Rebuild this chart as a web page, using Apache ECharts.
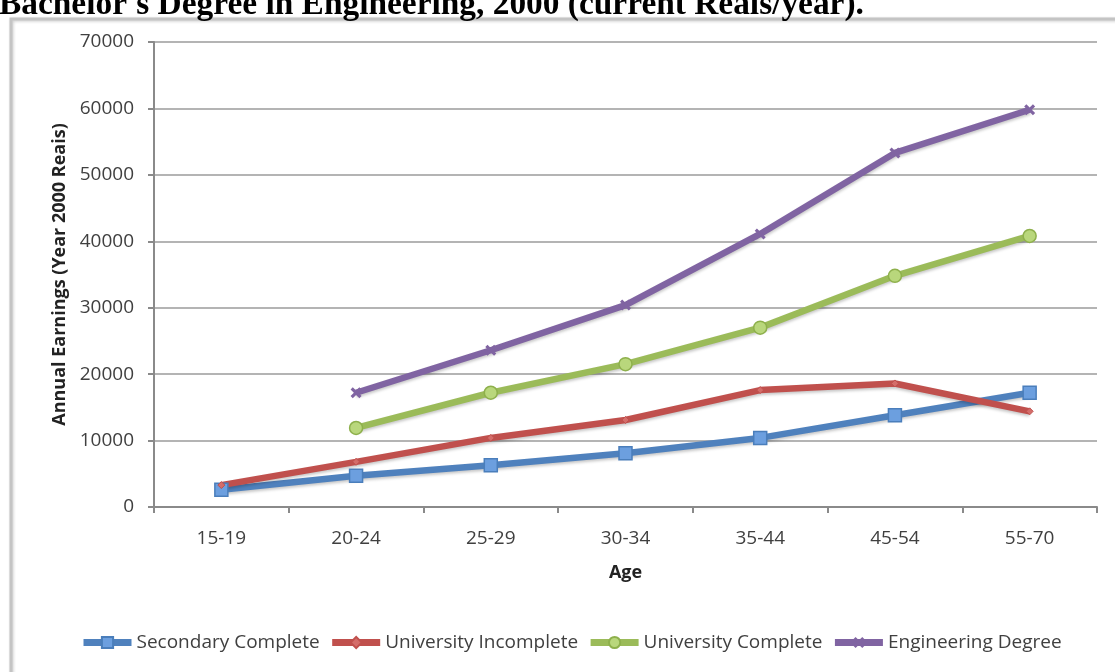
<!DOCTYPE html>
<html>
<head>
<meta charset="utf-8">
<script src="https://cdn.jsdelivr.net/npm/echarts@6/dist/echarts.min.js"></script>
<style>
  html, body { margin: 0; padding: 0; background: #fff; }
  #chart { width: 1115px; height: 672px; }
</style>
</head>
<body>
<div id="chart"></div>
<script>
// Age groups on the horizontal axis
const ageGroups = ['15-19', '20-24', '25-29', '30-34', '35-44', '45-54', '55-70'];

// Annual earnings by education level (Year 2000 Reais)
const secondaryComplete    = [2600, 4700, 6300, 8100, 10400, 13800, 17200];
const universityIncomplete = [3300, 6800, 10400, 13100, 17600, 18600, 14400];
const universityComplete   = [null, 11900, 17200, 21500, 27000, 34800, 40800];
const engineeringDegree    = [null, 17200, 23600, 30400, 41100, 53300, 59800];

const seriesNames = ['Secondary Complete', 'University Incomplete', 'University Complete', 'Engineering Degree'];

const yTicks = { min: 0, max: 70000, step: 10000 };

const titleText = "Bachelor's Degree in Engineering, 2000 (current Reais/year).";

const crossSymbol = 'path://M0,2 L2,0 L5,3 L8,0 L10,2 L7,5 L10,8 L8,10 L5,7 L2,10 L0,8 L3,5 Z';

const lineShadow = {
  shadowColor: 'rgba(0,0,0,0.22)',
  shadowBlur: 3,
  shadowOffsetY: 2
};

function lineSeries(name, data, color, symbol, size, itemStyle) {
  return {
    name: name,
    type: 'line',
    data: data,
    symbol: symbol,
    symbolSize: size,
    showAllSymbol: true,
    connectNulls: false,
    lineStyle: Object.assign({ color: color, width: 6.5 }, lineShadow),
    itemStyle: itemStyle,
    emphasis: { disabled: true },
    z: 3
  };
}

const chart = echarts.init(document.getElementById('chart'), null, { renderer: 'canvas' });

chart.setOption({
  animation: false,
  backgroundColor: '#ffffff',
  graphic: [
    {
      type: 'rect',
      shape: { x: 11, y: 19, width: 1130, height: 700 },
      style: {
        fill: 'none',
        stroke: '#c4c4c4',
        lineWidth: 3,
        shadowColor: 'rgba(0,0,0,0.2)',
        shadowBlur: 3,
        shadowOffsetX: 1,
        shadowOffsetY: 1
      },
      z: 0,
      silent: true
    },
    {
      // heading sits partly above the top edge of the page
      type: 'text',
      x: -1,
      y: 5,
      style: {
        text: titleText,
        font: 'bold 33.4px "Liberation Serif", "Times New Roman", serif',
        fill: '#000000',
        verticalAlign: 'middle'
      },
      z: 5,
      silent: true
    }
  ],
  grid: { left: 154, right: 18, top: 42, bottom: 165 },
  legend: {
    data: seriesNames,
    left: 75,
    top: 628,
    itemWidth: 48,
    itemHeight: 14,
    itemGap: 9,
    lineStyle: { width: 7 },
    textStyle: { fontFamily: 'Open Sans', fontSize: 19, color: '#404040' }
  },
  xAxis: {
    type: 'category',
    data: ageGroups,
    boundaryGap: true,
    name: 'Age',
    nameLocation: 'middle',
    nameGap: 57,
    nameTextStyle: { fontFamily: 'Open Sans', fontSize: 18, fontWeight: 'bold', color: '#222222' },
    axisLine: { lineStyle: { color: '#8a8a8a', width: 2 } },
    axisTick: { show: true, length: 6, interval: 0, lineStyle: { color: '#8a8a8a', width: 2 } },
    axisLabel: { fontFamily: 'Open Sans', fontSize: 19, color: '#404040', margin: 22, interval: 0 },
    splitLine: { show: false }
  },
  yAxis: {
    type: 'value',
    min: yTicks.min,
    max: yTicks.max,
    interval: yTicks.step,
    name: 'Annual Earnings (Year 2000 Reais)',
    nameLocation: 'middle',
    nameRotate: 90,
    nameGap: 82,
    nameTextStyle: { fontFamily: 'Open Sans', fontSize: 18, fontWeight: 'bold', color: '#222222' },
    axisLine: { show: true, lineStyle: { color: '#8a8a8a', width: 2 } },
    axisTick: { show: true, length: 6, lineStyle: { color: '#8a8a8a', width: 2 } },
    axisLabel: {
      fontFamily: 'Open Sans', fontSize: 19, color: '#404040', margin: 20,
      formatter: function (v) { return String(v); }
    },
    splitLine: { show: true, lineStyle: { color: '#b4b4b4', width: 2 } }
  },
  series: [
    lineSeries(seriesNames[0], secondaryComplete, '#4f81bd', 'rect', 13,
      { color: '#6c9fdf', borderColor: '#4a7ebb', borderWidth: 1.5 }),
    lineSeries(seriesNames[1], universityIncomplete, '#c0504d', 'diamond', 7,
      { color: '#d46d6a', borderColor: '#c0504d', borderWidth: 1 }),
    lineSeries(seriesNames[2], universityComplete, '#9bbb59', 'circle', 13,
      { color: '#b9d77c', borderColor: '#8eb04c', borderWidth: 1.5 }),
    lineSeries(seriesNames[3], engineeringDegree, '#8064a2', crossSymbol, 11,
      { color: '#8064a2', borderColor: '#8064a2', borderWidth: 0 })
  ]
});
</script>
</body>
</html>
